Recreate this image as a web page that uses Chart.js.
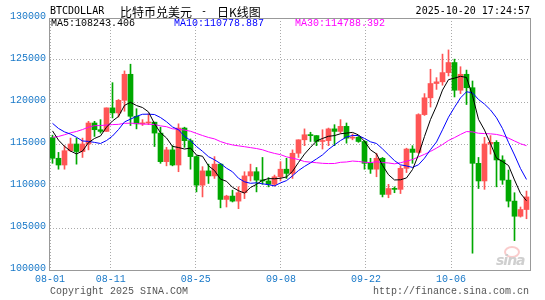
<!DOCTYPE html>
<html>
<head>
<meta charset="utf-8">
<script src="https://cdn.jsdelivr.net/npm/chart.js@4.4.1/dist/chart.umd.min.js"></script>
<style>
  body { margin: 0; background: #fff; }
  #wrap { position: relative; width: 545px; height: 300px; overflow: hidden; }
  #kChart { position: absolute; left: 0; top: 0; }
  .txt { position: absolute; white-space: pre; line-height: 12px; }
  .mono { font: 10px "Liberation Mono", monospace; }
  .sans-mono { font: 10px "DejaVu Sans Mono", monospace; }
  .cjk { font: 12px "Noto Sans CJK SC", sans-serif; }
</style>
</head>
<body>
<div id="wrap">
  <canvas id="kChart" width="545" height="300"></canvas>
  <div class="txt sans-mono" style="left:50px; top:5px;">BTCDOLLAR</div>
  <div class="txt cjk" style="left:120px; top:3px;">比特币兑美元</div>
  <div class="txt sans-mono" style="left:201px; top:5px;">-</div>
  <div class="txt cjk" style="left:217px; top:3px;">日K线图</div>
  <div class="txt sans-mono" style="right:15px; top:5px;">2025-10-20 17:24:57</div>
  <div class="txt mono" style="left:51px; top:18px; color:#000;">MA5:108243.406</div>
  <div class="txt mono" style="left:174px; top:18px; color:#0000ff;">MA10:110778.887</div>
  <div class="txt mono" style="left:295px; top:18px; color:#ff00ff;">MA30:114788.392</div>
  <div class="txt mono" style="left:50px; top:286px; color:#555;">Copyright 2025 SINA.COM</div>
  <div class="txt mono" style="right:16px; top:286px; color:#555;">http://finance.sina.com.cn</div>
  <div style="position:absolute; left:504px; top:246px; width:12px; height:8px; border-radius:50%; border:2px solid rgba(240,110,110,0.35);"></div>
  <div class="txt" style="left:496px; top:252px; font: italic bold 14px 'DejaVu Sans', sans-serif; color:#cfcfcf; letter-spacing:-1px;">sina</div>
</div>
<script>
// daily candles 2025-08-01 .. 2025-10-19
const dates = [
  '08-01','08-02','08-03','08-04','08-05','08-06','08-07','08-08','08-09','08-10',
  '08-11','08-12','08-13','08-14','08-15','08-16','08-17','08-18','08-19','08-20',
  '08-21','08-22','08-23','08-24','08-25','08-26','08-27','08-28','08-29','08-30',
  '08-31','09-01','09-02','09-03','09-04','09-05','09-06','09-07','09-08','09-09',
  '09-10','09-11','09-12','09-13','09-14','09-15','09-16','09-17','09-18','09-19',
  '09-20','09-21','09-22','09-23','09-24','09-25','09-26','09-27','09-28','09-29',
  '09-30','10-01','10-02','10-03','10-04','10-05','10-06','10-07','10-08','10-09',
  '10-10','10-11','10-12','10-13','10-14','10-15','10-16','10-17','10-18','10-19'
];

const opens = [
  115760,113300,112500,114200,115000,114100,115000,117500,116700,116500,
  119300,118700,120200,123300,118300,117400,117500,117600,116300,112900,
  114300,112500,116900,115400,113500,110100,111800,111200,112600,108400,
  108800,108200,109200,111200,111700,110700,110600,110200,111100,112000,
  111500,113900,115500,116100,116000,115300,115400,116800,116500,117100,
  115700,115800,115300,112700,112000,113300,109000,109700,109600,112100,
  114400,114000,118500,120500,122200,122400,123500,124700,121400,123300,
  121700,112700,110600,115000,115200,113100,110700,108200,106400,107200
];
const highs = [
  116050,114000,114800,115700,115700,115700,117700,117700,117900,119300,
  122300,120300,123700,124500,119200,117900,118600,117600,117000,114600,
  114800,117400,117000,115600,113600,112300,112600,113500,112700,108900,
  109500,109900,111700,112600,112200,113400,111000,111300,112900,113300,
  114300,115500,116800,116400,116000,116700,116900,117300,117900,117500,
  116200,115900,115400,113300,113900,113400,110200,109900,112400,114500,
  114800,118600,121000,123900,122900,125700,126200,125100,124200,123800,
  122500,113400,115800,116000,115400,113600,111900,109200,107500,109400
];
const lows = [
  112700,112000,112000,114100,112600,113400,114300,115900,116300,116500,
  118100,118200,118900,117200,116800,117200,117300,114700,112700,112400,
  112400,111700,114600,112000,109300,108700,110300,110900,107400,107500,
  108100,107300,108500,110600,109300,110200,109900,110000,110600,110900,
  110900,113400,114800,115300,114800,114400,114800,114800,116300,115100,
  115500,115200,112000,111500,111100,108700,108600,109200,109100,111600,
  112700,113900,118400,119400,121500,122000,123100,120600,121000,119700,
  102000,109700,109600,113800,109900,110200,107500,103500,106300,106100
];
const closes = [
  113300,112500,114200,115000,114100,115000,117500,116700,116500,119300,
  118700,120200,123300,118300,117400,117500,117600,116300,112900,114300,
  112500,116900,115400,113500,110100,111800,111200,112600,108400,108800,
  108200,109200,111200,111700,110700,110600,110200,111100,112000,111500,
  113900,115500,116100,116000,115300,115400,116800,116500,117100,115700,
  115800,115300,112700,112000,113300,109000,109700,109600,112100,114400,
  114000,118500,120500,122200,122400,123500,124700,121400,123300,121700,
  112700,110600,115000,115200,113100,110700,108200,106400,107200,108700
];

// moving averages as shown on the chart
const ma5 = [
  116560,115460,114720,114160,113820,114160,115160,115660,115960,117000,
  117740,118280,119600,119960,119580,119340,118820,117420,116340,115720,
  114720,114580,114400,114520,113680,113540,112400,111840,110820,110560,
  109840,109440,109160,109820,110200,110680,110880,110860,110920,111080,
  111740,112800,113800,114600,115360,115660,115920,116000,116220,116300,
  116380,116080,115320,114300,113820,112460,111340,110720,110740,110960,
  111960,113720,115900,117920,119520,121420,122660,122840,123060,122920,
  120760,117940,116660,115040,113320,112920,112440,110720,109120,108240
];
const ma10 = [
  117460,116850,116440,116180,115800,115360,115310,115190,115060,115410,
  115950,116720,117630,117960,118290,118540,118550,118510,118150,117650,
  117030,116700,115910,115430,114700,114130,113490,113120,112670,112120,
  111690,110920,110500,110320,110380,110260,110160,110010,110370,110640,
  111210,111840,112330,112760,113220,113700,114360,114900,115410,115830,
  116020,116000,115660,115260,115060,114420,113710,113020,112520,112390,
  112210,112530,113310,114330,115240,116690,118190,119370,120490,121220,
  121090,120300,119750,119050,118120,116840,115190,113690,112080,110780
];
const ma30 = [
  115800,115900,116100,116330,116490,116720,117000,117180,117200,117260,
  117310,117340,117460,117480,117440,117370,117360,117310,117160,117060,
  116810,116760,116660,116520,116260,116010,115780,115610,115290,115060,
  114890,114780,114680,114570,114460,114310,114070,113880,113730,113470,
  113310,113150,112910,112840,112770,112700,112670,112680,112820,112860,
  112970,112920,112830,112780,112890,112790,112740,112640,112770,112950,
  113150,113460,113770,114120,114510,114940,115420,115760,116140,116480,
  116440,116280,116240,116210,116140,115980,115700,115360,115030,114800
];

const tickDates = ['08-01', '08-11', '08-25', '09-08', '09-22', '10-06'];
const yTicks = [100000, 105000, 110000, 115000, 120000, 125000, 130000];

const upColor = '#ff5555';
const downColor = '#00a800';
const labelBlue = '#1878c8';
const candleColors = closes.map((c, i) => c >= opens[i] ? upColor : downColor);

const maLine = (label, values, color) => ({
  type: 'line',
  label: label,
  data: values.map((v, i) => ({ x: i, y: v })),
  borderColor: color,
  borderWidth: 1,
  pointRadius: 0,
  tension: 0,
  xAxisID: 'x',
  order: 0
});

// outer frame of the plot
const framePlugin = {
  id: 'frame',
  afterDraw(chart) {
    const { ctx, chartArea: a } = chart;
    ctx.save();
    ctx.strokeStyle = '#999';
    ctx.lineWidth = 1;
    ctx.strokeRect(a.left - 0.5, a.top + 0.5, a.right - a.left + 1, a.bottom - a.top);
    ctx.restore();
  }
};

const ctx = document.getElementById('kChart').getContext('2d');

const chart = new Chart(ctx, {
  type: 'bar',
  data: {
    datasets: [
      maLine('MA5', ma5, '#000000'),
      maLine('MA10', ma10, '#0000ff'),
      maLine('MA30', ma30, '#ff00ff'),
      {
        label: 'body',
        data: opens.map((o, i) => ({ x: i, y: [o, closes[i]] })),
        backgroundColor: candleColors,
        barThickness: 5,
        minBarLength: 1,
        grouped: false,
        xAxisID: 'x',
        order: 1
      },
      {
        label: 'wick',
        data: lows.map((l, i) => ({ x: i, y: [l, highs[i]] })),
        backgroundColor: candleColors,
        barThickness: 1,
        grouped: false,
        xAxisID: 'x',
        order: 2
      }
    ]
  },
  options: {
    responsive: false,
    animation: false,
    layout: { padding: { top: 18, right: 15, left: 0, bottom: 0 } },
    plugins: {
      legend: { display: false },
      title: { display: false },
      tooltip: { enabled: false }
    },
    scales: {
      x: {
        type: 'linear',
        display: false,
        offset: false,
        min: -2.5 / 6,
        max: dates.length - 2.5 / 6
      },
      xd: {
        type: 'linear',
        position: 'bottom',
        offset: false,
        min: 0,
        max: dates.length - 1,
        afterBuildTicks: scale => {
          scale.ticks = tickDates.map(d => ({ value: dates.indexOf(d) }));
        },
        afterFit: scale => { scale.height = 30; },
        grid: { color: '#aaa', lineWidth: 1, drawTicks: false, offset: false },
        border: { display: false, dash: [1, 2] },
        ticks: {
          autoSkip: false,
          maxRotation: 0,
          padding: 3,
          color: labelBlue,
          font: { family: 'Liberation Mono', size: 10 },
          callback: value => dates[value]
        }
      },
      y: {
        min: 100000,
        max: 130000,
        afterBuildTicks: scale => {
          scale.ticks = yTicks.map(v => ({ value: v }));
        },
        afterFit: scale => { scale.width = 50; },
        grid: { color: '#aaa', lineWidth: 1, drawTicks: false },
        border: { display: false, dash: [1, 2] },
        ticks: {
          padding: 4,
          labelOffset: -2,
          color: labelBlue,
          font: { family: 'Liberation Mono', size: 10 },
          callback: value => String(value)
        }
      }
    }
  },
  plugins: [framePlugin]
});
</script>
</body>
</html>
